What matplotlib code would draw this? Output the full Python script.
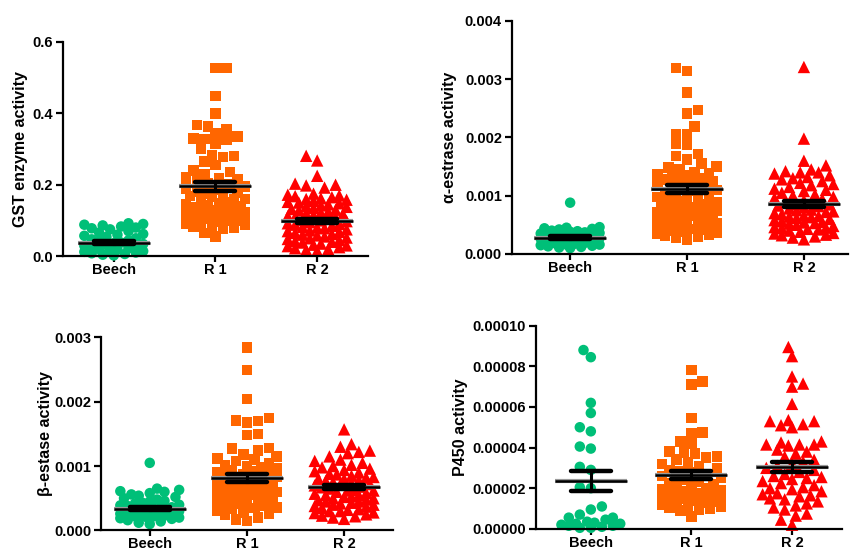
import numpy as np
import matplotlib
matplotlib.use("Agg")
import matplotlib.pyplot as plt
import matplotlib.patheffects as pe
from matplotlib.ticker import FormatStrFormatter

plt.rcParams['font.family'] = ['Liberation Sans', 'DejaVu Sans']
plt.rcParams['font.weight'] = 'bold'

categories = ["Beech", "R 1", "R 2"]

# ---------------- GST enzyme activity ----------------
gst_beech = [0.092, 0.090, 0.088, 0.086, 0.083, 0.080, 0.078, 0.075, 0.070, 0.066,
             0.062, 0.060, 0.057, 0.054, 0.050, 0.047, 0.044, 0.041, 0.038, 0.036,
             0.034, 0.031, 0.029, 0.027, 0.025, 0.022, 0.020, 0.018, 0.016, 0.014,
             0.012, 0.010, 0.008, 0.006, 0.004, 0.002]
gst_r1 = [0.527, 0.527, 0.449, 0.400, 0.368, 0.363, 0.355, 0.345, 0.335, 0.330,
          0.328, 0.325, 0.315, 0.300, 0.283, 0.281, 0.278, 0.265, 0.255, 0.240,
          0.235, 0.228, 0.220, 0.218, 0.215, 0.210, 0.205, 0.200, 0.195, 0.190,
          0.185, 0.180, 0.178, 0.175, 0.172, 0.168, 0.165, 0.160, 0.158, 0.155,
          0.150, 0.148, 0.145, 0.142, 0.140, 0.138, 0.135, 0.132, 0.130, 0.128,
          0.125, 0.122, 0.120, 0.118, 0.116, 0.115, 0.113, 0.112, 0.110, 0.108,
          0.106, 0.105, 0.103, 0.100, 0.098, 0.095, 0.092, 0.090, 0.088, 0.085,
          0.082, 0.080, 0.078, 0.065, 0.055]
gst_r2 = [0.281, 0.268, 0.225, 0.203, 0.200, 0.198, 0.192, 0.175, 0.172, 0.170,
          0.168, 0.165, 0.162, 0.160, 0.158, 0.155, 0.152, 0.150, 0.148, 0.145,
          0.142, 0.140, 0.138, 0.135, 0.132, 0.130, 0.128, 0.125, 0.122, 0.120,
          0.118, 0.115, 0.112, 0.110, 0.108, 0.105, 0.102, 0.100, 0.098, 0.095,
          0.092, 0.090, 0.088, 0.085, 0.082, 0.080, 0.078, 0.075, 0.072, 0.070,
          0.068, 0.065, 0.062, 0.060, 0.058, 0.055, 0.052, 0.050, 0.048, 0.045,
          0.042, 0.040, 0.038, 0.035, 0.032, 0.030, 0.028, 0.025, 0.022, 0.020,
          0.018, 0.015]
gst_mean = [0.038, 0.196, 0.099]
gst_sem = [0.003, 0.013, 0.006]

# ---------------- alpha-estrase activity ----------------
alpha_beech = [0.00088, 0.00046, 0.00045, 0.00044, 0.00043, 0.00042, 0.00040, 0.00039,
               0.00038, 0.00036, 0.00035, 0.00034, 0.00033, 0.00032, 0.00031, 0.00030,
               0.00029, 0.00028, 0.00027, 0.00026, 0.00025, 0.00024, 0.00023, 0.00022,
               0.00021, 0.00020, 0.00019, 0.00018, 0.00017, 0.00016, 0.00015, 0.00014,
               0.00013, 0.00012, 0.00011, 0.00010, 0.00016, 0.00022, 0.00030, 0.00037]
alpha_r1 = [0.00319, 0.00314, 0.00277, 0.00247, 0.00241, 0.00219, 0.00206, 0.00205,
            0.00189, 0.00188, 0.00172, 0.00168, 0.00162, 0.00155, 0.00150, 0.00148,
            0.00145, 0.00140, 0.00138, 0.00135, 0.00132, 0.00130, 0.00128, 0.00125,
            0.00122, 0.00120, 0.00118, 0.00115, 0.00112, 0.00110, 0.00108, 0.00105,
            0.00102, 0.00100, 0.00098, 0.00095, 0.00092, 0.00090, 0.00088, 0.00085,
            0.00082, 0.00080, 0.00078, 0.00075, 0.00073, 0.00072, 0.00070, 0.00068,
            0.00066, 0.00065, 0.00063, 0.00062, 0.00060, 0.00058, 0.00056, 0.00055,
            0.00053, 0.00052, 0.00050, 0.00048, 0.00046, 0.00045, 0.00043, 0.00042,
            0.00040, 0.00038, 0.00036, 0.00035, 0.00033, 0.00032, 0.00030, 0.00028,
            0.00025, 0.00070, 0.00074, 0.00086, 0.00094, 0.00126, 0.00136, 0.00058]
alpha_r2 = [0.00321, 0.00198, 0.00160, 0.00152, 0.00145, 0.00142, 0.00140, 0.00140,
            0.00138, 0.00135, 0.00132, 0.00130, 0.00128, 0.00125, 0.00122, 0.00120,
            0.00118, 0.00115, 0.00112, 0.00110, 0.00108, 0.00105, 0.00102, 0.00100,
            0.00098, 0.00096, 0.00094, 0.00092, 0.00090, 0.00088, 0.00086, 0.00085,
            0.00083, 0.00082, 0.00080, 0.00078, 0.00076, 0.00075, 0.00073, 0.00072,
            0.00070, 0.00068, 0.00066, 0.00065, 0.00063, 0.00062, 0.00060, 0.00058,
            0.00056, 0.00055, 0.00053, 0.00052, 0.00050, 0.00048, 0.00046, 0.00045,
            0.00043, 0.00042, 0.00040, 0.00038, 0.00036, 0.00035, 0.00033, 0.00032,
            0.00030, 0.00028, 0.00025, 0.00064, 0.00054, 0.00044]
alpha_mean = [0.00028, 0.00111, 0.00086]
alpha_sem = [0.00002, 0.00007, 0.00005]

# ---------------- beta-estase activity ----------------
beta_beech = [0.00105, 0.00065, 0.00063, 0.00061, 0.00060, 0.00058, 0.00056, 0.00054,
              0.00052, 0.00050, 0.00048, 0.00046, 0.00045, 0.00043, 0.00042, 0.00040,
              0.00039, 0.00038, 0.00036, 0.00035, 0.00034, 0.00033, 0.00032, 0.00031,
              0.00030, 0.00029, 0.00028, 0.00027, 0.00026, 0.00025, 0.00024, 0.00023,
              0.00022, 0.00021, 0.00020, 0.00019, 0.00018, 0.00016, 0.00014, 0.00012,
              0.00010, 0.00030, 0.00026, 0.00022]
beta_r1 = [0.00284, 0.00249, 0.00204, 0.00175, 0.00171, 0.00170, 0.00168, 0.00150,
           0.00148, 0.00128, 0.00127, 0.00124, 0.00118, 0.00115, 0.00112, 0.00110,
           0.00108, 0.00105, 0.00102, 0.00100, 0.00098, 0.00096, 0.00094, 0.00092,
           0.00090, 0.00088, 0.00086, 0.00085, 0.00083, 0.00082, 0.00080, 0.00078,
           0.00076, 0.00075, 0.00073, 0.00072, 0.00070, 0.00068, 0.00066, 0.00065,
           0.00063, 0.00062, 0.00060, 0.00058, 0.00056, 0.00055, 0.00053, 0.00052,
           0.00050, 0.00048, 0.00046, 0.00045, 0.00043, 0.00042, 0.00040, 0.00038,
           0.00036, 0.00035, 0.00033, 0.00030, 0.00028, 0.00026, 0.00024, 0.00020,
           0.00017, 0.00015, 0.00090, 0.00070, 0.00060, 0.00047]
beta_r2 = [0.00157, 0.00134, 0.00130, 0.00124, 0.00122, 0.00120, 0.00115, 0.00110,
           0.00108, 0.00105, 0.00102, 0.00100, 0.00098, 0.00096, 0.00094, 0.00092,
           0.00090, 0.00088, 0.00087, 0.00085, 0.00083, 0.00082, 0.00080, 0.00078,
           0.00077, 0.00075, 0.00073, 0.00072, 0.00070, 0.00068, 0.00067, 0.00065,
           0.00063, 0.00062, 0.00060, 0.00058, 0.00057, 0.00055, 0.00053, 0.00052,
           0.00050, 0.00048, 0.00047, 0.00045, 0.00043, 0.00042, 0.00040, 0.00038,
           0.00037, 0.00035, 0.00033, 0.00032, 0.00030, 0.00028, 0.00027, 0.00025,
           0.00023, 0.00022, 0.00020, 0.00018, 0.00062, 0.00050, 0.00040, 0.00030,
           0.00072, 0.00080, 0.00055, 0.00045]
beta_mean = [0.00034, 0.00081, 0.00067]
beta_sem = [0.00002, 0.00006, 0.00003]

# ---------------- P450 activity ----------------
p450_beech = [8.80e-5, 8.45e-5, 6.20e-5, 5.70e-5, 5.00e-5, 4.80e-5, 4.05e-5, 3.95e-5,
              3.05e-5, 2.90e-5, 2.05e-5, 2.00e-5, 1.10e-5, 0.95e-5, 0.70e-5, 0.55e-5,
              0.55e-5, 0.45e-5, 0.30e-5, 0.25e-5, 0.25e-5, 0.20e-5, 0.15e-5, 0.10e-5,
              0.05e-5, 0.05e-5, 0.35e-5, 0.15e-5]
p450_r1 = [7.82e-5, 7.25e-5, 7.10e-5, 5.45e-5, 4.75e-5, 4.70e-5, 4.30e-5, 4.20e-5,
           3.80e-5, 3.75e-5, 3.70e-5, 3.50e-5, 3.40e-5, 3.30e-5, 3.20e-5, 3.10e-5,
           3.00e-5, 2.90e-5, 2.80e-5, 2.70e-5, 2.60e-5, 2.50e-5, 2.40e-5, 2.30e-5,
           2.20e-5, 2.15e-5, 2.10e-5, 2.00e-5, 1.95e-5, 1.90e-5, 1.85e-5, 1.80e-5,
           1.75e-5, 1.70e-5, 1.65e-5, 1.60e-5, 1.55e-5, 1.50e-5, 1.45e-5, 1.40e-5,
           1.35e-5, 1.30e-5, 1.25e-5, 1.20e-5, 1.15e-5, 1.10e-5, 1.05e-5, 1.00e-5,
           0.95e-5, 0.90e-5, 0.60e-5, 2.25e-5, 1.72e-5, 1.58e-5, 3.55e-5, 2.85e-5]
p450_r2 = [8.95e-5, 8.50e-5, 7.50e-5, 7.15e-5, 7.00e-5, 6.15e-5, 5.35e-5, 5.30e-5,
           5.30e-5, 5.15e-5, 5.10e-5, 5.00e-5, 4.30e-5, 4.25e-5, 4.15e-5, 4.15e-5,
           4.15e-5, 4.10e-5, 3.90e-5, 3.80e-5, 3.70e-5, 3.55e-5, 3.40e-5, 3.30e-5,
           3.20e-5, 3.10e-5, 3.00e-5, 2.90e-5, 2.80e-5, 2.70e-5, 2.60e-5, 2.50e-5,
           2.45e-5, 2.35e-5, 2.25e-5, 2.15e-5, 2.05e-5, 1.95e-5, 1.85e-5, 1.75e-5,
           1.70e-5, 1.60e-5, 1.50e-5, 1.45e-5, 1.35e-5, 1.25e-5, 1.15e-5, 1.05e-5,
           0.95e-5, 0.75e-5, 0.65e-5, 0.45e-5, 0.20e-5, 1.65e-5, 2.00e-5, 2.55e-5]
p450_mean = [2.37e-5, 2.63e-5, 3.05e-5]
p450_sem = [0.49e-5, 0.20e-5, 0.25e-5]

green, orange, red = '#00BF78', '#FF6600', '#FF0000'
colors = [green, orange, red]
markers = ['o', 's', '^']

panels = [
    dict(data=[gst_beech, gst_r1, gst_r2], mean=gst_mean, sem=gst_sem,
         ylim=(0, 0.6), step=0.2, fmt='%.1f', label='GST enzyme activity',
         rect=[0.074, 0.536, 0.359, 0.388], xlim=(-0.5, 2.5), ylabx=-0.115),
    dict(data=[alpha_beech, alpha_r1, alpha_r2], mean=alpha_mean, sem=alpha_sem,
         ylim=(0, 0.004), step=0.001, fmt='%.3f', label='α-estrase activity',
         rect=[0.602, 0.540, 0.396, 0.422], xlim=(-0.5, 2.38), ylabx=-0.163),
    dict(data=[beta_beech, beta_r1, beta_r2], mean=beta_mean, sem=beta_sem,
         ylim=(0, 0.003), step=0.001, fmt='%.3f', label='β-estase activity',
         rect=[0.119, 0.039, 0.343, 0.350], xlim=(-0.5, 2.5), ylabx=-0.164),
    dict(data=[p450_beech, p450_r1, p450_r2], mean=p450_mean, sem=p450_sem,
         ylim=(0, 0.0001), step=0.00002, fmt='%.5f', label='P450 activity',
         rect=[0.630, 0.042, 0.361, 0.368], xlim=(-0.55, 2.5), ylabx=-0.22),
]

W, H = 850, 552
fig = plt.figure(figsize=(W / 100, H / 100), dpi=100)

MPX = 10.5  # marker size in pixels


def swarm_offsets(vals, ylim, ax_h_px, px_per_unit, maxhalf_px=30):
    """Greedy beeswarm layout in pixel space (layout only, values untouched)."""
    v = np.asarray(vals, dtype=float)
    ypx = (v - ylim[0]) / (ylim[1] - ylim[0]) * ax_h_px
    order = np.argsort(ypx)
    step = MPX * 0.35
    nsteps = int(maxhalf_px / step)
    placed_x, placed_y = [], []
    off = np.zeros(len(v))
    for k, idx in enumerate(order):
        y = ypx[idx]
        sign = 1 if k % 2 == 0 else -1
        cands = [0.0]
        for j in range(1, nsteps + 1):
            cands += [sign * j * step, -sign * j * step]
        best, bestd = 0.0, -1
        chosen = None
        px = np.array(placed_x)
        py = np.array(placed_y)
        for c in cands:
            if len(px):
                d = np.sqrt((px - c) ** 2 + (py - y) ** 2).min()
            else:
                d = 1e9
            if d >= MPX * 0.92:
                chosen = c
                break
            if d > bestd:
                bestd, best = d, c
        if chosen is None:
            chosen = best
        off[idx] = chosen
        placed_x.append(chosen)
        placed_y.append(y)
    return off / px_per_unit


halo = [pe.Stroke(linewidth=3.0, foreground='#9a9a9a'), pe.Normal()]

for p in panels:
    ax = fig.add_axes(p['rect'])
    ax.set_xlim(*p['xlim'])
    ax.set_ylim(*p['ylim'])
    ax_w_px = p['rect'][2] * W
    ax_h_px = p['rect'][3] * H
    ppu = ax_w_px / (p['xlim'][1] - p['xlim'][0])
    for i, vals in enumerate(p['data']):
        off = swarm_offsets(vals, p['ylim'], ax_h_px, ppu)
        ms = MPX * 0.72
        if markers[i] == '^':
            ms = MPX * 0.85
        ax.scatter(i + off, vals, s=ms ** 2, marker=markers[i], color=colors[i],
                   edgecolors='none', zorder=2, clip_on=False)
        m, s = p['mean'][i], p['sem'][i]
        hw = 36 / ppu
        cw = 20 / ppu
        ax.plot([i - hw, i + hw], [m, m], color='black', lw=1.8, zorder=4,
                solid_capstyle='butt', path_effects=halo)
        ax.plot([i, i], [m - s, m + s], color='black', lw=2.2, zorder=5)
        for yy in (m - s, m + s):
            ax.plot([i - cw, i + cw], [yy, yy], color='black', lw=3.2, zorder=5,
                    solid_capstyle='round')
    ax.set_xticks(range(3))
    ax.set_xticklabels(categories, fontsize=10.5, fontweight='bold')
    yt = np.arange(p['ylim'][0], p['ylim'][1] + p['step'] / 2, p['step'])
    ax.set_yticks(yt)
    ax.yaxis.set_major_formatter(FormatStrFormatter(p['fmt']))
    for lab in ax.get_yticklabels():
        lab.set_fontsize(10.5)
        lab.set_fontweight('bold')
    ax.set_ylabel(p['label'], fontsize=11.5, fontweight='bold')
    ax.yaxis.set_label_coords(p['ylabx'], 0.5)
    for sp in ['top', 'right']:
        ax.spines[sp].set_visible(False)
    for sp in ['left', 'bottom']:
        ax.spines[sp].set_linewidth(1.6)
    ax.tick_params(axis='y', width=1.6, length=5, direction='out', pad=2)
    ax.tick_params(axis='x', width=1.6, length=4, direction='out', pad=1)

fig.savefig('out.png', dpi=100)
